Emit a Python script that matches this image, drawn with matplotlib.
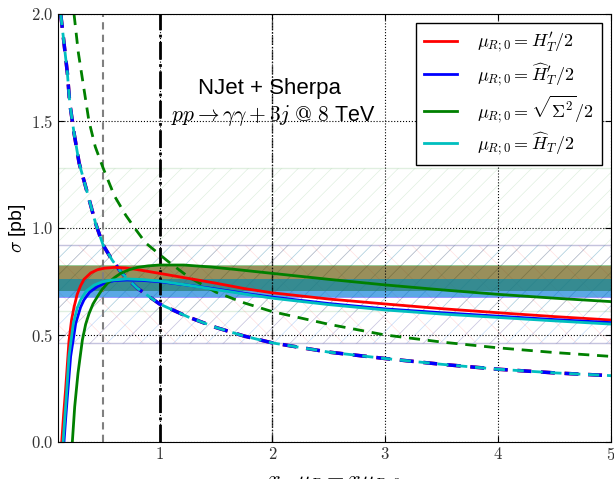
import numpy as np
import matplotlib
matplotlib.use("Agg")
import matplotlib.pyplot as plt
from matplotlib.ticker import FuncFormatter

plt.rcParams['mathtext.fontset'] = 'cm'
plt.rcParams['font.family'] = ['Liberation Sans', 'DejaVu Sans']
plt.rcParams['hatch.linewidth'] = 0.5

# ---- NLO curves (solid) ----
x_red = [0.133, 0.15, 0.168, 0.197, 0.22, 0.242, 0.27, 0.30, 0.33, 0.39, 0.45, 0.51, 0.6, 0.7,
         0.8, 0.9, 1.0, 1.25, 1.5, 1.75, 2.0, 2.5, 3.0, 3.5, 4.0, 4.5, 5.0]
y_red = [0.0, 0.13, 0.25, 0.47, 0.57, 0.63, 0.69, 0.73, 0.76, 0.79, 0.805, 0.812, 0.816, 0.813,
         0.806, 0.797, 0.788, 0.765, 0.742, 0.717, 0.697, 0.668, 0.645, 0.623, 0.604, 0.586, 0.57]

x_blue = [0.153, 0.168, 0.183, 0.212, 0.257, 0.30, 0.33, 0.38, 0.449, 0.52, 0.596, 0.71, 0.85,
          1.0, 1.25, 1.5, 1.75, 2.0, 2.5, 3.0, 3.5, 4.0, 4.5, 5.0]
y_blue = [0.0, 0.11, 0.212, 0.40, 0.555, 0.63, 0.664, 0.70, 0.726, 0.743, 0.754, 0.757, 0.755,
          0.749, 0.733, 0.715, 0.695, 0.677, 0.647, 0.622, 0.604, 0.588, 0.572, 0.558]

x_cyan = [0.145, 0.16, 0.174, 0.197, 0.236, 0.27, 0.30, 0.35, 0.419, 0.49, 0.566, 0.71, 0.85,
          1.0, 1.25, 1.5, 1.75, 2.0, 2.5, 3.0, 3.5, 4.0, 4.5, 5.0]
y_cyan = [0.0, 0.11, 0.212, 0.40, 0.555, 0.625, 0.664, 0.705, 0.733, 0.748, 0.756, 0.762, 0.759,
          0.752, 0.733, 0.712, 0.692, 0.672, 0.642, 0.617, 0.598, 0.582, 0.566, 0.551]

x_green = [0.227, 0.248, 0.277, 0.316, 0.345, 0.375, 0.41, 0.449, 0.49, 0.537, 0.6, 0.655, 0.73,
           0.803, 0.9, 1.0, 1.215, 1.45, 1.66, 2.0, 2.5, 3.0, 3.5, 4.0, 4.5, 5.0]
y_green = [0.0, 0.165, 0.321, 0.477, 0.55, 0.60, 0.645, 0.679, 0.712, 0.741, 0.768, 0.788, 0.805,
           0.816, 0.823, 0.827, 0.827, 0.818, 0.807, 0.788, 0.76, 0.734, 0.711, 0.69, 0.672, 0.656]

# ---- LO curves (dashed) ----
x_lo_blue = [0.124, 0.153, 0.183, 0.204, 0.242, 0.287, 0.36, 0.434, 0.5, 0.58, 0.664, 0.8, 1.0,
             1.25, 1.5, 1.75, 2.0, 2.5, 3.0, 3.5, 4.0, 4.5, 5.0]
y_lo_blue = [2.0, 1.865, 1.724, 1.584, 1.444, 1.304, 1.164, 1.02, 0.92, 0.85, 0.79, 0.72, 0.645,
             0.585, 0.535, 0.495, 0.463, 0.42, 0.39, 0.363, 0.34, 0.323, 0.31]
y_lo_red = y_lo_blue
y_lo_cyan = y_lo_blue

x_lo_green = [0.242, 0.28, 0.33, 0.374, 0.43, 0.5, 0.6, 0.7, 0.8, 0.877, 1.07, 1.257, 1.5, 1.75,
              2.0, 2.5, 3.0, 3.5, 4.0, 4.5, 5.0]
y_lo_green = [2.0, 1.82, 1.65, 1.5, 1.38, 1.28, 1.15, 1.06, 0.985, 0.93, 0.846, 0.771, 0.70, 0.65,
              0.609, 0.55, 0.50, 0.467, 0.44, 0.418, 0.40]

# ---- bands (lo, hi) ----
nlo_band_red = (0.706, 0.822)
nlo_band_green = (0.706, 0.826)
nlo_band_blue = (0.673, 0.764)
nlo_band_cyan = (0.676, 0.764)
lo_band_red = (0.464, 0.92)
lo_band_blue = (0.464, 0.92)
lo_band_green = (0.61, 1.28)
lo_band_cyan = (0.464, 0.92)

labels = [r'$\mu_{R;0} = H_T^{\prime}/2$',
          r'$\mu_{R;0} = \widehat{H}_T^{\prime}/2$',
          r'$\mu_{R;0} = \sqrt{\Sigma^2}/2$',
          r'$\mu_{R;0} = \widehat{H}_T/2$']

fig = plt.figure(figsize=(6.14, 4.79), dpi=100)
ax = fig.add_axes([58/614, 37/479, 553/614, 428/479])

# LO hatched bands
for (lo, hi), c, h in [(lo_band_green, 'g', '//'), (lo_band_red, 'r', 'x'),
                       (lo_band_blue, 'b', '//'), (lo_band_cyan, 'c', '//')]:
    ax.axhspan(lo, hi, facecolor='none', edgecolor=c, hatch=h, alpha=0.12, lw=1)

# NLO filled bands
for (lo, hi), c in [(nlo_band_red, 'r'), (nlo_band_blue, 'b'),
                    (nlo_band_green, 'g'), (nlo_band_cyan, 'c')]:
    ax.axhspan(lo, hi, color=c, alpha=0.4, lw=0)

ax.grid(True, color='k', linestyle=':', linewidth=0.8)

ax.axvline(0.5, color='gray', lw=1.5, dashes=(3.5, 2.5))
ax.axvline(1.0, color='k', ls='-.', lw=2)
ax.axvline(2.0, color='k', ls='-.', lw=1, alpha=0.7)

dash = (4, 2.8)
ax.plot(x_lo_blue, y_lo_red, color='r', lw=2.5, dashes=dash)
ax.plot(x_lo_blue, y_lo_blue, color='b', lw=2.5, dashes=dash)
ax.plot(x_lo_green, y_lo_green, color='g', lw=2, dashes=dash)
ax.plot(x_lo_blue, y_lo_cyan, color='c', lw=2, dashes=dash)

l1, = ax.plot(x_red, y_red, color='r', lw=2, label=labels[0])
l2, = ax.plot(x_blue, y_blue, color='b', lw=2, label=labels[1])
l3, = ax.plot(x_green, y_green, color='g', lw=2, label=labels[2])
l4, = ax.plot(x_cyan, y_cyan, color='c', lw=2, label=labels[3])

ax.set_xlim(0.1, 5)
ax.set_ylim(0.0, 2.0)
ax.set_xticks([1, 2, 3, 4, 5])
ax.set_yticks([0.0, 0.5, 1.0, 1.5, 2.0])
ax.xaxis.set_major_formatter(FuncFormatter(lambda v, p: r'$%d$' % v))
ax.yaxis.set_major_formatter(FuncFormatter(lambda v, p: r'$%.1f$' % v))
ax.tick_params(direction='in', top=True, right=True, length=4, labelsize=12, pad=3,
               labelcolor='#333333')

ax.set_xlabel(r'$x,\ \mu_R = x\mu_{R;0}$', fontsize=16, labelpad=7.5)
ax.set_ylabel(r'$\sigma$ [pb]', fontsize=14, labelpad=2)

leg = ax.legend(handles=[l1, l2, l3, l4], loc='upper right', fontsize=13,
                fancybox=False, framealpha=1, edgecolor='k',
                bbox_to_anchor=(0.9837, 0.979), borderaxespad=0,
                handlelength=1.8, handletextpad=1.1,
                labelspacing=0.3, borderpad=0.45)
leg.get_frame().set_linewidth(1)

ax.text(0.383, 0.827, 'NJet + Sherpa', transform=ax.transAxes,
        fontsize=16, ha='center', va='center')
ax.text(0.39, 0.764, r'$pp \to \gamma\gamma + 3j\ @\ 8$ TeV', transform=ax.transAxes,
        fontsize=15.5, ha='center', va='center')

fig.savefig('out.png', dpi=100)
